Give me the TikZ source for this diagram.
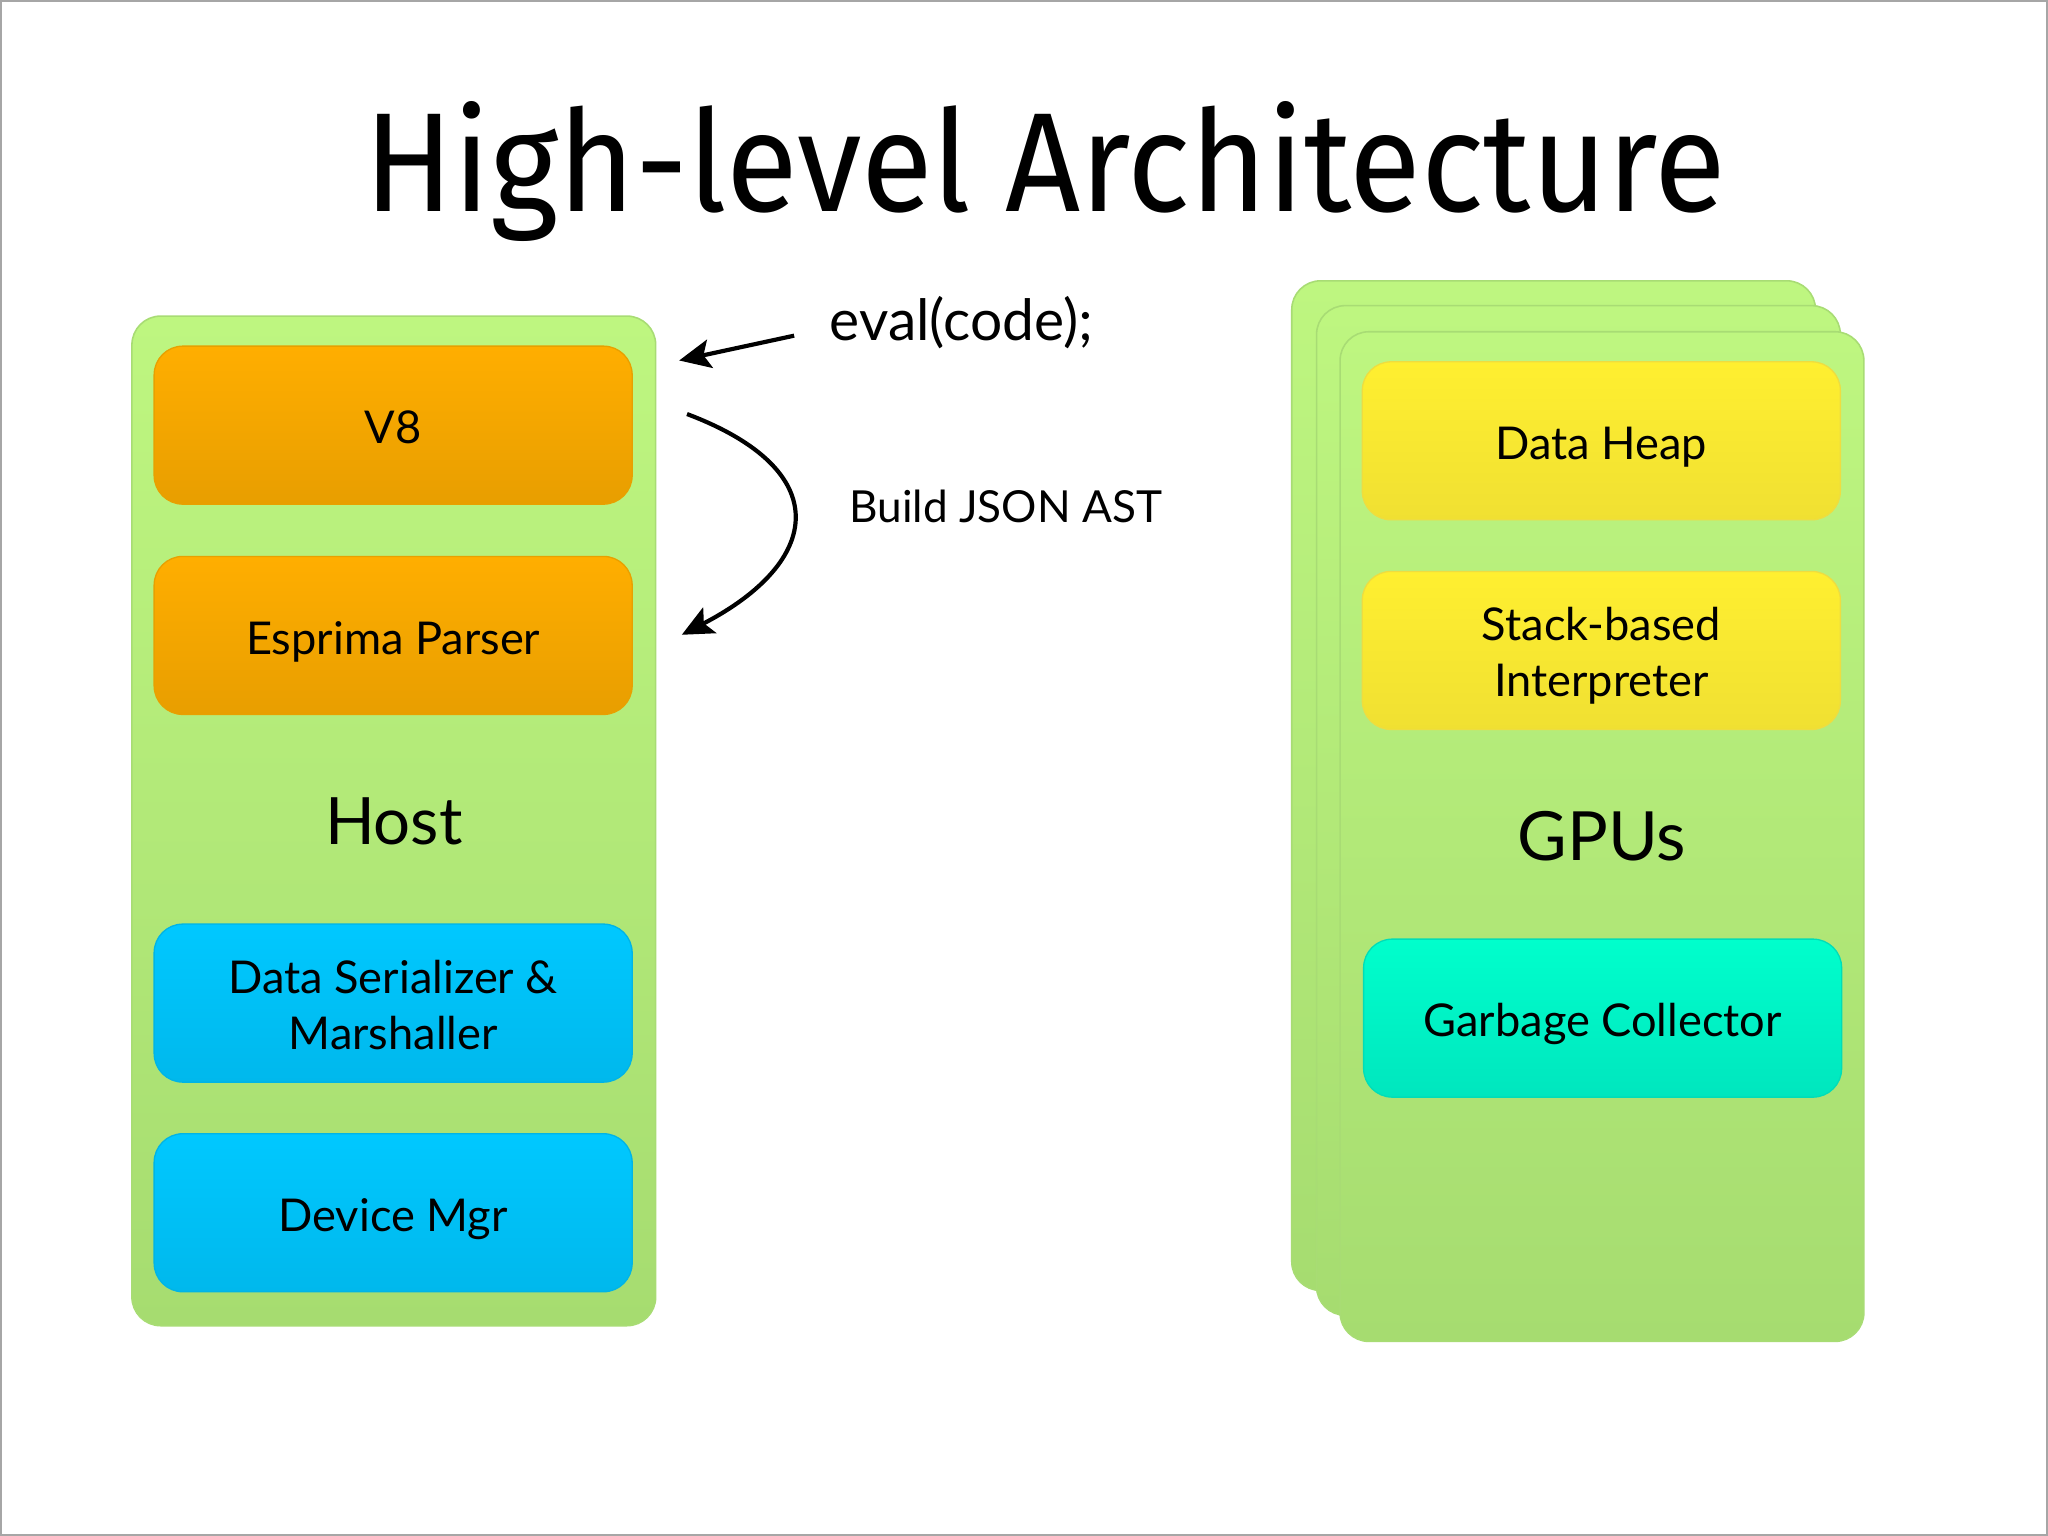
\documentclass[tikz,border=0pt]{standalone}
\usepackage{fontspec}
\setmainfont{Lato}
\newfontfamily\titlefont{Fira Sans}
\usetikzlibrary{arrows.meta}
\definecolor{gtop}{HTML}{BEF680}
\definecolor{gbot}{HTML}{A6DC70}
\definecolor{gedge}{HTML}{A8DC74}
\definecolor{otop}{HTML}{FFAE00}
\definecolor{obot}{HTML}{E89E00}
\definecolor{oedge}{HTML}{E8A000}
\definecolor{btop}{HTML}{00C8FF}
\definecolor{bbot}{HTML}{00B8EC}
\definecolor{bedge}{HTML}{00B4E6}
\definecolor{ytop}{HTML}{FFEF30}
\definecolor{ybot}{HTML}{F0E032}
\definecolor{yedge}{HTML}{EEDD40}
\definecolor{ttop}{HTML}{00FFCC}
\definecolor{tbot}{HTML}{00E6BE}
\definecolor{tedge}{HTML}{00DDB8}
\tikzset{
  outerbox/.style={rounded corners=11pt, minimum width=200.5pt, minimum height=386.5pt,
    top color=gtop, bottom color=gbot, draw=gedge, line width=0.6pt, inner sep=0pt,
    font=\fontsize{25}{30}\selectfont},
  innerbox/.style={rounded corners=11pt, minimum width=183pt, minimum height=60.5pt,
    inner sep=0pt, align=center, line width=0.5pt, font=\fontsize{17.3}{21.5}\selectfont},
  oneline/.style={text height=14.3pt, text depth=0pt},
  twoline/.style={text height=35.5pt, text depth=0pt},
  orangebox/.style={innerbox, top color=otop, bottom color=obot, draw=oedge},
  bluebox/.style={innerbox, top color=btop, bottom color=bbot, draw=bedge},
  yellowbox/.style={innerbox, top color=ytop, bottom color=ybot, draw=yedge},
  tealbox/.style={innerbox, top color=ttop, bottom color=tbot, draw=tedge},
  arr/.style={line width=1.6pt, -{Stealth[length=12pt, width=11pt, inset=2.5pt]}},
}
\begin{document}
\begin{tikzpicture}[x=0.5pt, y=-0.5pt]
\useasboundingbox (0,0) rectangle (1568,1176);
\fill[white] (0,0) rectangle (1568,1176);
\draw[gray!70, line width=0.6pt] (0.6,0.6) rectangle (1567.4,1175.4);

\node[anchor=base, font=\titlefont\fontsize{54}{60}\selectfont] (title) at (800,162) {\scalebox{0.93}[1]{High-level Architecture}};

% Host
\node[outerbox] (host) at (301.5,628.5) {Host};
\node[orangebox, oneline] (v8) at (301,325.5) {V8};
\node[orangebox, oneline] (esprima) at (301,486.5) {Esprima Parser};
\node[bluebox, twoline] (serial) at (301,768) {Data Serializer \&\\Marshaller};
\node[bluebox, oneline] (device) at (301,928.5) {Device Mgr};

% GPUs
\node[outerbox] (gpuback) at (1189.5,601.5) {};
\node[outerbox] (gpumid) at (1208.5,620.5) {};
\node[outerbox, font=\fontsize{26}{30}\selectfont] (gpu) at (1226.5,640.5) {GPUs};
\node[yellowbox, oneline] (heap) at (1226,337.5) {Data Heap};
\node[yellowbox, twoline] (interp) at (1226,498) {Stack-based\\Interpreter};
\node[tealbox, oneline] (gc) at (1227,779.5) {Garbage Collector};

% labels
\node[anchor=west, font=\fontsize{21.8}{25}\selectfont, inner sep=0pt] (eval) at (635,247) {eval(code);};
\node[anchor=west, font=\fontsize{16.9}{21}\selectfont, inner sep=0pt] (build) at (650,388) {Build JSON AST};

% arrows
\coordinate (evalstart) at (608,257);
\coordinate (evalend) at (520,276);
\coordinate (curvestart) at (526,317);
\coordinate (curveend) at (522,486);
\draw[arr] (evalstart) -- (evalend);
\draw[arr] (curvestart) .. controls (640,360) and (630,430) .. (curveend);
\end{tikzpicture}
\end{document}
